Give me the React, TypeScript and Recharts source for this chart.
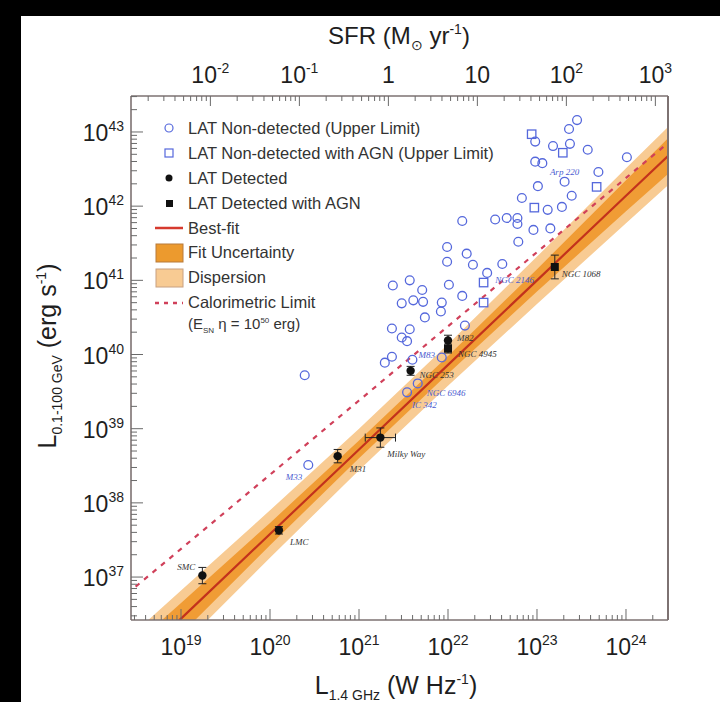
import { ComposedChart, XAxis, YAxis, Area, Line, Scatter, ErrorBar, Legend } from 'recharts';

// all values are log10 (L1.4GHz in W/Hz, L0.1-100GeV in erg/s)

// fit band nodes
const nodeLogL = [18.3, 19, 20, 21, 22, 23, 24, 24.6];
const fitLogLg = [35.64, 36.44, 37.58, 38.72, 39.86, 41.0, 42.14, 42.82];
const fitHalfWidth = [0.26, 0.21, 0.15, 0.12, 0.12, 0.15, 0.21, 0.25];
const dispHalfWidth = [0.42, 0.38, 0.32, 0.28, 0.28, 0.32, 0.37, 0.4];
const calorLogLg = [36.68, 37.38, 38.38, 39.38, 40.38, 41.38, 42.38, 42.98];

const nonDetected = [
  { l: 23.45, g: 43.16 }, { l: 23.36, g: 43.04 }, { l: 22.98, g: 42.87 }, { l: 23.18, g: 42.81 },
  { l: 23.37, g: 42.84 }, { l: 23.57, g: 42.76 }, { l: 24.01, g: 42.66 }, { l: 22.98, g: 42.6 },
  { l: 23.06, g: 42.58 }, { l: 23.69, g: 42.46 }, { l: 23.31, g: 42.33 }, { l: 23.01, g: 42.27, name: 'Arp 220' },
  { l: 23.39, g: 42.14 }, { l: 22.83, g: 42.11 }, { l: 23.12, g: 41.95 }, { l: 23.28, g: 41.99 },
  { l: 22.53, g: 41.82 }, { l: 22.66, g: 41.84 }, { l: 22.78, g: 41.84 }, { l: 22.78, g: 41.76 },
  { l: 22.96, g: 41.68 }, { l: 23.15, g: 41.7 }, { l: 22.79, g: 41.52 }, { l: 22.16, g: 41.8 },
  { l: 21.99, g: 41.45 }, { l: 22.21, g: 41.36 }, { l: 21.99, g: 41.25 }, { l: 22.28, g: 41.21 },
  { l: 22.61, g: 41.22 }, { l: 22.44, g: 41.1, name: 'NGC 2146' }, { l: 22.01, g: 40.94 }, { l: 22.16, g: 40.79 },
  { l: 21.93, g: 40.7 }, { l: 21.92, g: 40.58 }, { l: 21.38, g: 40.93 }, { l: 21.57, g: 41.0 },
  { l: 21.71, g: 40.87 }, { l: 21.72, g: 40.71 }, { l: 21.61, g: 40.73 }, { l: 21.48, g: 40.69 },
  { l: 21.74, g: 40.5 }, { l: 21.37, g: 40.35 }, { l: 21.57, g: 40.34 }, { l: 21.48, g: 40.23 },
  { l: 21.54, g: 40.18 }, { l: 21.37, g: 39.97 }, { l: 21.29, g: 39.89 }, { l: 21.6, g: 39.93, name: 'M83' },
  { l: 21.93, g: 39.96 }, { l: 21.54, g: 39.49, name: 'IC 342' }, { l: 21.66, g: 39.61, name: 'NGC 6946' },
  { l: 20.39, g: 39.72 }, { l: 20.43, g: 38.51, name: 'M33' }, { l: 22.19, g: 40.39 },
];

const nonDetectedAgn = [
  { l: 22.94, g: 42.97 }, { l: 23.29, g: 42.72 }, { l: 23.67, g: 42.26 },
  { l: 22.97, g: 41.98 }, { l: 22.4, g: 40.97 }, { l: 22.4, g: 40.7 },
];

// err / xerr in dex
const detected = [
  { name: 'SMC', l: 19.24, g: 37.02, err: 0.11, xerr: 0 },
  { name: 'LMC', l: 20.1, g: 37.63, err: 0.05, xerr: 0 },
  { name: 'M31', l: 20.76, g: 38.63, err: 0.09, xerr: 0 },
  { name: 'Milky Way', l: 21.24, g: 38.88, err: 0.13, xerr: 0.17 },
  { name: 'NGC 253', l: 21.58, g: 39.78, err: 0.06, xerr: 0 },
  { name: 'M82', l: 22.0, g: 40.19, err: 0.07, xerr: 0 },
];

const detectedAgn = [
  { name: 'NGC 4945', l: 22.0, g: 40.08, err: 0.06, xerr: 0 },
  { name: 'NGC 1068', l: 23.2, g: 41.18, err: 0.16, xerr: 0 },
];

const lumExponents = [19, 20, 21, 22, 23, 24];
const sfrExponents = [-2, -1, 0, 1, 2, 3];
const gammaExponents = [37, 38, 39, 40, 41, 42, 43];
const SFR_LOG_OFFSET = 21.33; // SFR = L1.4 / 10^21.33

// layout
const PLOT_LEFT = 131;
const PLOT_RIGHT = 668;
const PLOT_TOP = 96;
const PLOT_BOTTOM = 620;
const X_DOMAIN = [10 ** 18.438, 10 ** 24.472];
const Y_DOMAIN = [10 ** 36.421, 10 ** 43.485];
const SFR_DOMAIN = [X_DOMAIN[0] / 10 ** SFR_LOG_OFFSET, X_DOMAIN[1] / 10 ** SFR_LOG_OFFSET];

const BLUE = '#5568dc';
const BLUE_TEXT = '#4a5cd0';
const FRAME = '#7d7272';
const TICK_FONT = { fontFamily: 'Liberation Sans, Arial, sans-serif', fontSize: 23, fill: '#1e1e1e' };
const SUP = 14;
const NOTE_FONT = { fontFamily: 'Liberation Serif, Times New Roman, serif', fontStyle: 'italic', fontSize: 9 };

const labelOffsets: Record<string, [number, number, 'start' | 'end']> = {
  SMC: [-7, -6, 'end'],
  LMC: [11, 15, 'start'],
  M31: [12, 16, 'start'],
  'Milky Way': [7, 19, 'start'],
  'NGC 253': [9, 7, 'start'],
  M82: [9, 1, 'start'],
  'NGC 4945': [10, 8, 'start'],
  'NGC 1068': [7, 10, 'start'],
  'Arp 220': [12, -11, 'start'],
  'NGC 2146': [8, 10, 'start'],
  M83: [6, -2, 'start'],
  'IC 342': [5, 16, 'start'],
  'NGC 6946': [9, 13, 'start'],
  M33: [-6, 15, 'end'],
};

const bandRows = nodeLogL.map((l, i) => ({
  x: 10 ** l,
  disp: [10 ** (fitLogLg[i] - dispHalfWidth[i]), 10 ** (fitLogLg[i] + dispHalfWidth[i])],
  unc: [10 ** (fitLogLg[i] - fitHalfWidth[i]), 10 ** (fitLogLg[i] + fitHalfWidth[i])],
  fit: 10 ** fitLogLg[i],
  calor: 10 ** calorLogLg[i],
}));

const toRows = (pts: { l: number; g: number; name?: string; err?: number; xerr?: number }[]) =>
  pts.map((p) => {
    const x = 10 ** p.l;
    const y = 10 ** p.g;
    const e = p.err ?? 0;
    const ex = p.xerr ?? 0;
    return {
      x, y, name: p.name,
      ey: [y - y / 10 ** e, y * 10 ** e - y],
      ex: [x - x / 10 ** ex, x * 10 ** ex - x],
    };
  });

const logTicks = (domain: number[]) => {
  const out: number[] = [];
  for (let d = Math.floor(Math.log10(domain[0])); d <= Math.ceil(Math.log10(domain[1])); d++) {
    for (let k = 1; k <= 9; k++) {
      const v = k * 10 ** d;
      if (v >= domain[0] && v <= domain[1]) out.push(v);
    }
  }
  return out;
};

const expOf = (v: number) => Math.round(Math.log10(v));
const isDecade = (v: number) => Math.abs(Math.log10(v) - expOf(v)) < 1e-6;

function BottomTick({ x, payload }: any) {
  const v = payload.value;
  const major = isDecade(v) && lumExponents.includes(expOf(v));
  return (
    <g>
      <line x1={x} x2={x} y1={PLOT_BOTTOM} y2={PLOT_BOTTOM - (major ? 11 : 5)} stroke="#6a6a6a" />
      {major && (
        <text x={x} y={655} textAnchor="middle" style={TICK_FONT}>
          10<tspan dy={-10} fontSize={SUP}>{expOf(v)}</tspan>
        </text>
      )}
    </g>
  );
}

function TopTick({ x, payload }: any) {
  const v = payload.value;
  const major = isDecade(v) && sfrExponents.includes(expOf(v));
  const e = expOf(v);
  return (
    <g>
      <line x1={x} x2={x} y1={PLOT_TOP} y2={PLOT_TOP + (major ? 10 : 5)} stroke="#6a6a6a" />
      {major && (
        <text x={x} y={83} textAnchor="middle" style={TICK_FONT}>
          {e === 0 ? '1' : e === 1 ? '10' : <>10<tspan dy={-10} fontSize={SUP}>{e}</tspan></>}
        </text>
      )}
    </g>
  );
}

function LeftTick({ y, payload }: any) {
  const v = payload.value;
  const major = isDecade(v) && gammaExponents.includes(expOf(v));
  return (
    <g>
      <line x1={PLOT_LEFT} x2={PLOT_LEFT + (major ? 12 : 6)} y1={y} y2={y} stroke="#6a6a6a" />
      {major && (
        <text x={124} y={y + 9} textAnchor="end" style={TICK_FONT}>
          10<tspan dy={-10} fontSize={SUP}>{expOf(v)}</tspan>
        </text>
      )}
    </g>
  );
}

function PointLabel({ cx, cy, name, color }: { cx: number; cy: number; name?: string; color: string }) {
  if (!name || !labelOffsets[name]) return null;
  const [dx, dy, anchor] = labelOffsets[name];
  return (
    <text x={cx + dx} y={cy + dy} textAnchor={anchor} style={{ ...NOTE_FONT, fill: color }}>
      {name}
    </text>
  );
}

const OpenCircle = (p: any) => (
  <g>
    <circle cx={p.cx} cy={p.cy} r={4.4} fill="none" stroke={BLUE} strokeWidth={1.3} />
    <PointLabel cx={p.cx} cy={p.cy} name={p.payload?.name} color={BLUE_TEXT} />
  </g>
);

const OpenSquare = (p: any) => (
  <rect x={p.cx - 4.2} y={p.cy - 4.2} width={8.4} height={8.4} fill="none" stroke={BLUE} strokeWidth={1.3} />
);

const DotMark = (p: any) => (
  <g>
    <circle cx={p.cx} cy={p.cy} r={4.2} fill="#111" />
    <PointLabel cx={p.cx} cy={p.cy} name={p.payload?.name} color="#333" />
  </g>
);

const SquareMark = (p: any) => (
  <g>
    <rect x={p.cx - 4} y={p.cy - 4} width={8} height={8} fill="#111" />
    <PointLabel cx={p.cx} cy={p.cy} name={p.payload?.name} color="#333" />
  </g>
);

const Hidden = () => null;

const LEGEND_FONT = { fontFamily: 'Liberation Sans, Arial, sans-serif', fontSize: 16.5, color: '#333' };

function LegendBox() {
  const row = (marker: any, label: any, key: string) => (
    <div key={key} style={{ display: 'flex', alignItems: 'center', height: 24.9 }}>
      <svg width={33} height={24} style={{ flex: 'none' }}>{marker}</svg>
      <span style={{ whiteSpace: 'nowrap' }}>{label}</span>
    </div>
  );
  return (
    <div style={LEGEND_FONT}>
      {row(<circle cx={14} cy={12} r={4} fill="none" stroke={BLUE} strokeWidth={1.2} />, 'LAT Non-detected (Upper Limit)', 'a')}
      {row(<rect x={10} y={8} width={8} height={8} fill="none" stroke={BLUE} strokeWidth={1.2} />, 'LAT Non-detected with AGN (Upper Limit)', 'b')}
      {row(<circle cx={14} cy={12} r={3.5} fill="#111" />, 'LAT Detected', 'c')}
      {row(<rect x={11} y={9} width={7} height={7} fill="#111" />, 'LAT Detected with AGN', 'd')}
      {row(<line x1={0} x2={28} y1={12} y2={12} stroke="#d63a2e" strokeWidth={2.5} />, 'Best-fit', 'e')}
      {row(<rect x={1} y={3} width={27} height={18} fill="#ec9a2e" stroke="#b87a3a" strokeWidth={1} />, 'Fit Uncertainty', 'f')}
      {row(<rect x={1} y={3} width={27} height={18} fill="#f8cb93" stroke="#c8a080" strokeWidth={1} />, 'Dispersion', 'g')}
      {row(<line x1={0} x2={28} y1={12} y2={12} stroke="#d0405a" strokeWidth={2.5} strokeDasharray="4 5" />, 'Calorimetric Limit', 'h')}
      <div style={{ paddingLeft: 33, height: 22, whiteSpace: 'nowrap', fontSize: 15 }}>
        (E<sub style={{ fontSize: 8 }}>SN</sub> η = 10<sup style={{ fontSize: 8 }}>50</sup> erg)
      </div>
    </div>
  );
}

export default function App() {
  const ticksL = logTicks(X_DOMAIN);
  const ticksSfr = logTicks(SFR_DOMAIN);
  const ticksG = logTicks(Y_DOMAIN);
  const titleFont = { fontFamily: 'Liberation Sans, Arial, sans-serif', fill: '#1e1e1e' };

  return (
    <div style={{ position: 'absolute', left: 0, top: 0, width: 720, height: 702, background: '#000', overflow: 'hidden' }}>
      <div style={{ position: 'absolute', left: 21, top: 16, right: 0, bottom: 0, background: '#fff' }} />
      <div style={{ position: 'absolute', left: 0, top: 0 }}>
        <ComposedChart
          width={720}
          height={702}
          data={bandRows}
          margin={{ top: PLOT_TOP - 1, right: 720 - PLOT_RIGHT - 1, bottom: 702 - PLOT_BOTTOM - 1, left: PLOT_LEFT - 1 }}
        >
          <XAxis
            xAxisId="L" dataKey="x" type="number" scale="log" domain={X_DOMAIN} allowDataOverflow
            ticks={ticksL} interval={0} tick={<BottomTick />} tickLine={false} height={1}
            axisLine={{ stroke: FRAME, strokeWidth: 1.6 }}
          />
          <XAxis
            xAxisId="sfr" dataKey="x" orientation="top" type="number" scale="log" domain={SFR_DOMAIN} allowDataOverflow
            ticks={ticksSfr} interval={0} tick={<TopTick />} tickLine={false} height={1}
            axisLine={{ stroke: FRAME, strokeWidth: 1.6 }}
          />
          <YAxis
            yAxisId="g" type="number" scale="log" domain={Y_DOMAIN} allowDataOverflow
            ticks={ticksG} interval={0} tick={<LeftTick />} tickLine={false} width={1}
            axisLine={{ stroke: FRAME, strokeWidth: 1.6 }}
          />
          <YAxis
            yAxisId="r" orientation="right" type="number" scale="log" domain={Y_DOMAIN} allowDataOverflow
            ticks={[]} tick={false} tickLine={false} width={1} axisLine={{ stroke: FRAME, strokeWidth: 2 }}
          />

          <Area xAxisId="L" yAxisId="g" dataKey="disp" type="linear" stroke="none" fill="#f8cb93" fillOpacity={1} isAnimationActive={false} />
          <Area xAxisId="L" yAxisId="g" dataKey="unc" type="linear" stroke="none" fill="#f09c35" fillOpacity={1} isAnimationActive={false} />
          <Line xAxisId="L" yAxisId="g" dataKey="fit" type="linear" stroke="#c3321c" strokeWidth={2.2} dot={false} isAnimationActive={false} />
          <Line xAxisId="L" yAxisId="g" dataKey="calor" type="linear" stroke="#d0405a" strokeWidth={2.2} strokeDasharray="5 6" dot={false} isAnimationActive={false} />

          {/* keeps the SFR axis registered so its ticks are computed */}
          <Scatter xAxisId="sfr" yAxisId="g" data={[]} dataKey="y" shape={Hidden} isAnimationActive={false} />

          <Scatter xAxisId="L" yAxisId="g" data={toRows(nonDetected)} dataKey="y" shape={OpenCircle} isAnimationActive={false} />
          <Scatter xAxisId="L" yAxisId="g" data={toRows(nonDetectedAgn)} dataKey="y" shape={OpenSquare} isAnimationActive={false} />
          <Scatter xAxisId="L" yAxisId="g" data={toRows(detected)} dataKey="y" shape={DotMark} isAnimationActive={false}>
            <ErrorBar dataKey="ey" direction="y" width={4} stroke="#222" strokeWidth={1} />
            <ErrorBar dataKey="ex" direction="x" width={4} stroke="#222" strokeWidth={1} />
          </Scatter>
          <Scatter xAxisId="L" yAxisId="g" data={toRows(detectedAgn)} dataKey="y" shape={SquareMark} isAnimationActive={false}>
            <ErrorBar dataKey="ey" direction="y" width={4} stroke="#222" strokeWidth={1} />
          </Scatter>

          <Legend
            layout="vertical" align="center" verticalAlign="middle"
            content={() => <LegendBox />}
            wrapperStyle={{ position: 'absolute', left: 155, top: 116, width: 380, height: 230, margin: 0 }}
          />
        </ComposedChart>
      </div>
      <svg width={720} height={702} style={{ position: 'absolute', left: 0, top: 0, pointerEvents: 'none' }}>
        <text x={399} y={44} textAnchor="middle" fontSize={24} style={titleFont}>
          SFR (M<tspan dy={6} fontSize={14}>⊙</tspan><tspan dy={-6}> yr</tspan><tspan dy={-10} fontSize={14}>-1</tspan><tspan dy={10}>)</tspan>
        </text>
        <text x={396} y={694} textAnchor="middle" fontSize={25} style={titleFont}>
          L<tspan dy={6} fontSize={14}>1.4 GHz</tspan><tspan dy={-6}> (W Hz</tspan><tspan dy={-10} fontSize={14}>-1</tspan><tspan dy={10}>)</tspan>
        </text>
        <text x={0} y={0} textAnchor="middle" fontSize={25} style={titleFont} transform="translate(56 356) rotate(-90)">
          L<tspan dy={6} fontSize={14}>0.1-100 GeV</tspan><tspan dy={-6}> (erg s</tspan><tspan dy={-10} fontSize={14}>-1</tspan><tspan dy={10}>)</tspan>
        </text>
      </svg>
    </div>
  );
}
